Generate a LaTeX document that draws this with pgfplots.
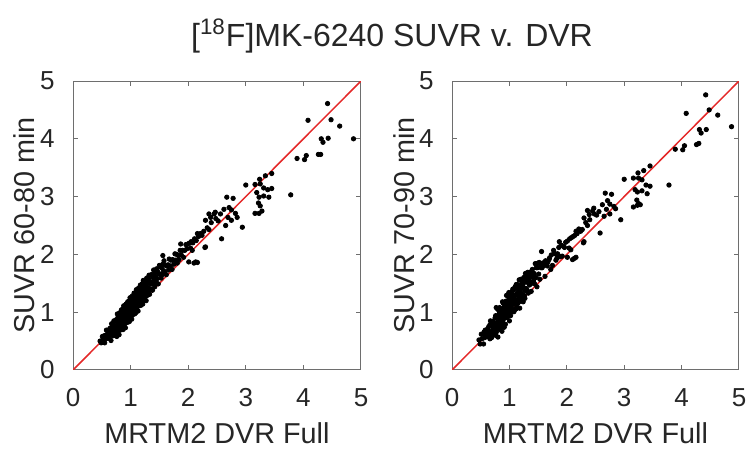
\documentclass[border=0pt]{standalone}
\usepackage{fontspec}
\setmainfont{Liberation Sans}
\usepackage{pgfplots}
\usepackage{pgfplotstable}
\pgfplotsset{compat=1.18}

\definecolor{idline}{RGB}{228,40,40}
\definecolor{boxgray}{RGB}{110,110,110}

% x = MRTM2 DVR Full, y1 = SUVR 60-80 min, y2 = SUVR 70-90 min
\pgfplotstableread{
x y1 y2
0.47 0.50 0.52
0.49 0.47 0.45
0.51 0.58 0.62
0.52 0.53 0.54
0.54 0.59 0.62
0.55 0.47 0.45
0.56 0.60 0.66
0.57 0.54 0.56
0.58 0.69 0.69
0.59 0.60 0.64
0.60 0.67 0.66
0.61 0.55 0.58
0.62 0.65 0.71
0.63 0.59 0.60
0.64 0.72 0.75
0.65 0.61 0.59
0.66 0.72 0.78
0.66 0.51 0.54
0.67 0.67 0.65
0.67 0.80 0.85
0.68 0.66 0.67
0.68 0.76 0.80
0.69 0.59 0.56
0.69 0.74 0.81
0.70 0.63 0.65
0.70 0.80 0.80
0.71 0.70 0.75
0.71 0.85 0.84
0.72 0.67 0.71
0.72 0.76 0.83
0.73 0.60 0.61
0.73 0.74 0.77
0.74 0.76 0.74
0.74 0.65 0.71
0.75 0.87 0.90
0.75 0.71 0.68
0.76 0.85 0.94
0.76 0.58 0.60
0.77 0.84 0.91
0.77 0.70 0.65
0.77 0.97 1.08
0.78 0.78 0.82
0.78 0.91 0.91
0.78 0.64 0.72
0.79 0.83 0.81
0.79 0.70 0.76
0.79 0.94 1.06
0.80 0.75 0.76
0.80 0.89 0.94
0.80 0.61 0.57
0.81 0.82 0.92
0.81 0.99 1.04
0.81 0.79 0.76
0.82 0.94 1.03
0.82 0.69 0.71
0.82 0.90 0.97
0.83 0.75 0.70
0.83 0.97 1.08
0.83 0.82 0.86
0.84 1.04 1.04
0.84 0.79 0.87
0.85 0.92 0.90
0.85 0.70 0.76
0.85 0.88 1.00
0.86 0.90 0.91
0.86 0.75 0.80
0.86 1.05 1.01
0.87 0.85 0.95
0.87 0.98 1.03
0.87 0.70 0.67
0.88 0.97 1.06
0.88 0.83 0.85
0.88 1.11 1.18
0.89 0.91 0.86
0.89 1.05 1.16
0.89 0.76 0.80
0.90 0.96 0.96
0.90 0.82 0.90
0.90 1.08 1.06
0.91 0.88 0.94
0.91 1.02 1.14
0.91 0.73 0.74
0.92 0.96 1.01
0.92 1.14 1.10
0.92 0.93 1.03
0.93 1.09 1.14
0.93 0.82 0.79
0.93 1.04 1.13
0.94 0.89 0.91
0.94 1.12 1.19
0.94 0.96 0.91
0.95 1.18 1.29
0.95 0.92 0.96
0.96 1.06 1.06
0.96 0.83 0.91
0.96 1.02 1.00
0.97 1.04 1.10
0.97 0.89 1.01
0.97 1.19 1.20
0.98 0.99 1.04
0.98 1.12 1.08
0.98 0.84 0.94
0.99 1.11 1.16
0.99 0.97 0.94
0.99 1.25 1.34
1.00 1.05 1.07
1.00 1.19 1.26
1.00 0.90 0.85
1.01 1.10 1.21
1.01 0.96 1.00
1.01 1.22 1.22
1.02 1.03 1.11
1.02 1.17 1.15
1.02 0.88 0.94
1.03 1.10 1.22
1.03 1.28 1.29
1.03 1.07 1.12
1.04 1.23 1.19
1.04 0.96 1.06
1.04 1.18 1.23
1.05 1.04 1.01
1.05 1.27 1.36
1.05 1.11 1.13
1.06 1.33 1.40
1.06 1.07 1.02
1.06 1.19 1.30
1.07 0.97 1.01
1.07 1.16 1.16
1.07 1.17 1.25
1.08 1.03 1.01
1.08 1.33 1.39
1.08 1.12 1.24
1.09 1.27 1.28
1.09 0.99 1.04
1.09 1.24 1.20
1.10 1.11 1.21
1.10 1.39 1.44
1.10 1.18 1.15
1.11 1.33 1.42
1.11 1.04 1.06
1.11 1.23 1.30
1.12 1.11 1.06
1.12 1.37 1.48
1.12 1.16 1.20
1.13 1.31 1.31
1.13 1.02 1.10
1.13 1.23 1.21
1.14 1.42 1.48
1.14 1.21 1.33
1.15 1.38 1.39
1.15 1.11 1.16
1.16 1.34 1.30
1.16 1.18 1.28
1.16 1.41 1.46
1.17 1.26 1.23
1.17 1.47 1.56
1.18 1.23 1.25
1.18 1.35 1.42
1.18 1.12 1.07
1.19 1.32 1.43
1.19 1.33 1.37
1.20 1.19 1.19
1.20 1.49 1.57
1.20 1.28 1.26
1.21 1.42 1.48
1.21 1.14 1.26
1.22 1.41 1.42
1.22 1.27 1.32
1.22 1.55 1.51
1.23 1.35 1.45
1.23 1.49 1.54
1.24 1.21 1.18
1.24 1.40 1.49
1.25 1.27 1.29
1.25 1.53 1.60
1.26 1.33 1.28
1.26 1.47 1.58
1.27 1.20 1.24
1.27 1.40 1.40
1.28 1.59 1.67
1.28 1.39 1.37
1.29 1.54 1.60
1.29 1.29 1.41
1.30 1.51 1.52
1.30 1.35 1.40
1.31 1.58 1.54
1.31 1.43 1.53
1.32 1.64 1.69
1.32 1.39 1.36
1.33 1.53 1.62
1.33 1.31 1.33
1.34 1.50 1.57
1.35 1.52 1.47
1.36 1.40 1.51
1.36 1.65 1.69
1.37 1.49 1.49
1.38 1.62 1.70
1.38 1.38 1.36
1.39 1.60 1.66
1.40 1.49 1.61
1.40 1.73 1.74
1.41 1.56 1.61
1.42 1.69 1.65
1.42 1.44 1.54
1.43 1.62 1.67
1.44 1.52 1.49
1.45 1.75 1.84
1.46 1.58 1.60
1.47 1.70 1.77
1.48 1.49 1.44
1.49 1.66 1.77
1.50 1.81 1.85
1.51 1.66 1.66
1.52 1.78 1.86
1.53 1.59 1.57
1.54 1.77 1.83
1.55 1.65 1.77
1.56 1.83 1.84
1.57 1.72 1.77
1.58 1.89 1.85
1.59 1.70 1.80
1.61 1.81 1.86
1.62 1.65 1.62
1.63 1.80 1.89
1.65 1.82 1.84
1.66 1.73 1.80
1.67 1.92 1.87
1.69 1.80 1.91
1.70 1.90 1.94
1.72 1.74 1.74
1.73 1.91 1.99
1.75 1.83 1.81
1.77 2.01 2.07
1.78 1.90 2.02
1.80 2.00 2.01
1.81 1.85 1.90
1.83 1.98 1.94
1.84 1.91 2.01
1.86 2.07 2.12
1.88 1.99 1.96
1.90 2.07 2.16
1.92 1.95 1.97
1.94 2.07 2.14
1.96 2.17 2.12
1.98 2.10 2.21
2.01 2.19 2.23
2.04 2.11 2.11
2.05 2.22 2.27
2.08 2.20 2.29
2.11 2.27 2.31
2.14 2.24 2.33
2.18 2.31 2.36
2.21 2.36 2.44
2.24 2.33 2.40
2.27 2.40 2.43
2.33 2.46 2.55
2.36 2.43 2.50
2.40 2.55 2.60
2.48 2.62 2.70
2.52 2.58 2.68
2.56 2.70 2.74
2.62 2.78 2.86
2.36 2.70 2.76
2.47 2.73 2.80
2.16 2.36 2.40
2.01 1.87 1.95
2.13 1.87 1.93
2.30 2.13 2.22
1.87 2.18 2.22
1.56 1.98 2.05
2.07 2.07 2.08
2.10 1.85 1.91
2.16 1.86 1.95
2.29 2.12 2.20
2.30 2.59 2.63
2.39 2.64 2.69
2.45 2.70 2.75
2.58 2.27 2.37
2.65 2.50 2.66
2.75 2.59 2.70
2.69 2.64 2.78
2.94 2.47 2.60
2.85 2.64 2.79
2.82 2.71 2.83
2.75 2.77 2.87
2.71 2.81 2.93
2.78 2.97 3.04
2.67 2.99 3.06
3.00 3.20 3.30
3.28 2.75 2.86
3.23 2.71 2.85
3.16 2.71 2.82
3.25 2.84 2.88
3.22 2.89 2.94
3.19 3.07 3.12
3.23 2.99 3.08
3.40 2.99 3.05
3.31 3.01 3.10
3.45 3.14 3.18
3.38 3.12 3.20
3.31 3.15 3.29
3.25 3.22 3.32
3.16 3.21 3.32
3.24 3.30 3.41
3.34 3.36 3.45
3.45 3.40 3.53
3.78 3.03 3.20
4.05 3.71 3.88
4.02 3.64 3.81
3.89 3.66 3.82
4.30 3.73 3.92
4.26 3.73 3.90
4.34 3.94 4.10
4.43 4.01 4.16
4.31 4.00 4.16
4.87 4.00 4.21
4.63 4.22 4.41
4.48 4.33 4.50
4.08 4.32 4.44
4.42 4.61 4.76
}\data

\pgfplotsset{
  panel/.style={
    scale only axis, width=144pt, height=144.5pt,
    xmin=0, xmax=5, ymin=0, ymax=5,
    xtick={0,1,2,3,4,5}, ytick={0,1,2,3,4,5},
    tick align=inside, major tick length=2.5pt,
    axis line style={draw=boxgray, line width=0.5pt},
    every tick/.style={draw=boxgray, line width=0.5pt},
    /pgf/number format/assume math mode=true,
    ticklabel style={font=\fontsize{13}{13}\selectfont, text=black!85},
    xticklabel style={anchor=north, inner sep=0pt, yshift=-9pt},
    yticklabel style={anchor=east, inner sep=0pt, xshift=-9pt},
    every axis x label/.style={at={(axis description cs:0.5,-0.256)}, anchor=base,
      font=\fontsize{14.4}{14.4}\selectfont, text=black!85},
    every axis y label/.style={at={(axis description cs:-0.132,0.5)}, rotate=90, anchor=base,
      font=\fontsize{14.4}{14.4}\selectfont, text=black!85},
    xlabel={MRTM2 DVR Full},
  },
  dots/.style={only marks, mark=*, mark size=1.1pt, draw=black, fill=black},
}

\begin{document}
\begin{tikzpicture}
\useasboundingbox (0,0) rectangle (374.5pt,224.5pt);

\node[anchor=base, font=\fontsize{16}{16}\selectfont, text=black!85] at (196pt,201pt)
  {[\textsuperscript{18}F]MK-6240 SUVR v. DVR};

\begin{axis}[panel, at={(36.5pt,39.5pt)}, anchor=south west, ylabel={SUVR 60-80 min}]
  \addplot[idline, line width=0.75pt] coordinates {(0,0) (5,5)};
  \addplot[dots] table[x=x, y=y1] {\data};
\end{axis}

\begin{axis}[panel, at={(226pt,39.5pt)}, anchor=south west, width=143.5pt, ylabel={SUVR 70-90 min}]
  \addplot[idline, line width=0.75pt] coordinates {(0,0) (5,5)};
  \addplot[dots] table[x=x, y=y2] {\data};
\end{axis}
\end{tikzpicture}
\end{document}
